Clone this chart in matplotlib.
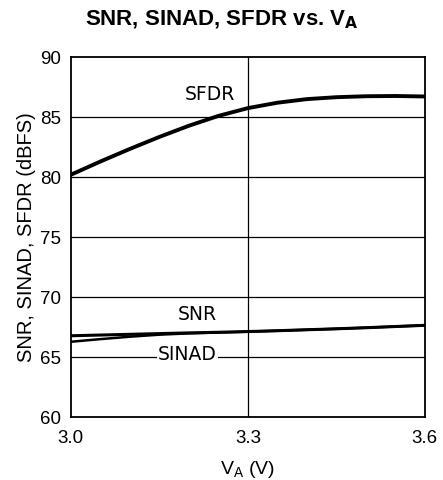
import matplotlib
matplotlib.use("Agg")
import matplotlib.pyplot as plt

# curves (V_A in volts, level in dBFS)
va = [3.00, 3.05, 3.10, 3.15, 3.20, 3.25, 3.30, 3.35, 3.40, 3.45, 3.50, 3.55, 3.60]
sfdr = [80.2, 81.3, 82.35, 83.35, 84.28, 85.1, 85.75, 86.2, 86.5, 86.66, 86.74, 86.76, 86.72]
snr = [66.78, 66.84, 66.9, 66.96, 67.02, 67.07, 67.13, 67.2, 67.28, 67.36, 67.45, 67.55, 67.65]
sinad = [66.28, 66.5, 66.7, 66.87, 66.98, 67.05, 67.12, 67.2, 67.28, 67.36, 67.45, 67.55, 67.65]

x_ticks = [3.0, 3.3, 3.6]
x_ticklabels = ["3.0", "3.3", "3.6"]
y_ticks = [60, 65, 70, 75, 80, 85, 90]

plt.rcParams["font.family"] = ["Liberation Sans", "DejaVu Sans"]

fig = plt.figure(figsize=(4.43, 4.8), dpi=100)
ax = fig.add_axes([0.160, 0.131, 0.799, 0.750])

for v in x_ticks[1:-1]:
    ax.axvline(v, color="black", lw=0.9, zorder=1)
for y in y_ticks[1:-1]:
    ax.axhline(y, color="black", lw=0.9, zorder=1)

ax.plot(va, sfdr, color="black", lw=2.8, zorder=3)
ax.plot(va, snr, color="black", lw=2.2, zorder=3)
ax.plot(va, sinad, color="black", lw=1.8, zorder=3)

lab = dict(fontsize=13.5, family=["DejaVu Sans"], color="black", zorder=4)
ax.text(3.278, 86.85, "SFDR", ha="right", va="center", **lab)
ax.text(3.214, 68.55, "SNR", ha="center", va="center", **lab)
ax.text(3.198, 65.25, "SINAD", ha="center", va="center",
        bbox=dict(facecolor="white", edgecolor="none", pad=1.0), **lab)

ax.set_xlim(3.0, 3.6)
ax.set_ylim(60, 90)
ax.set_xticks(x_ticks)
ax.set_xticklabels(x_ticklabels)
ax.set_yticks(y_ticks)
ax.tick_params(axis="both", direction="in", length=0, labelsize=13.5)
ax.tick_params(axis="y", pad=7)
ax.tick_params(axis="x", pad=9)
for s in ax.spines.values():
    s.set_linewidth(1.3)

ax.set_xlabel("V$_\\mathregular{A}$ (V)", fontsize=14, labelpad=9)
ax.set_ylabel("SNR, SINAD, SFDR (dBFS)", fontsize=14.5, labelpad=3)
fig.text(0.5, 1 - 20 / 480, "SNR, SINAD, SFDR vs. V$_\\mathregular{\\bf A}$",
         fontsize=16, fontweight="bold", ha="center", va="center")

fig.savefig("out.png", dpi=100)
